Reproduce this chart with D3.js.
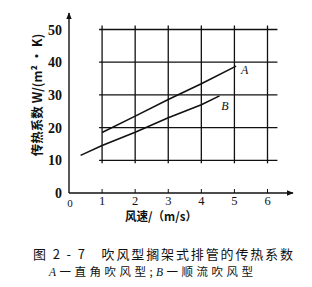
<!DOCTYPE html>
<html>
<head>
<meta charset="utf-8">
<script src="https://cdn.jsdelivr.net/npm/d3@7"></script>
<style>
  body { margin: 0; background: #fff; }
  svg { display: block; }
</style>
</head>
<body>
<div id="chart"></div>
<script>
// values
const xTicks = [1, 2, 3, 4, 5, 6]
const yTicks = [0, 10, 20, 30, 40, 50]
const gridY = [10, 20, 30, 40, 50]
const speedA = [1, 2, 3, 4, 5.05]
const coefA = [18.5, 23.5, 28.6, 33.4, 38.8]
const speedB = [0.35, 1, 2, 3, 4, 4.55]
const coefB = [11.5, 14.5, 18.6, 23, 27, 29.7]

const width = 312
const height = 287
const ink = '#111'
const serif = '"Liberation Serif", "DejaVu Serif", serif'
const cjk = '"Noto Sans CJK SC", sans-serif'

const x = d3.scaleLinear().domain([0, 6]).range([69, 267.5])
const y = d3.scaleLinear().domain([0, 50]).range([193, 29.5])

const svg = d3.select('#chart').append('svg')
  .attr('width', width)
  .attr('height', height)

// grid
const grid = svg.append('g').attr('stroke', ink).attr('stroke-width', 1.3)
grid.selectAll('line.h').data(gridY).enter().append('line')
  .attr('x1', x(1) - 3).attr('x2', x(6.3))
  .attr('y1', d => y(d)).attr('y2', d => y(d))
grid.selectAll('line.v').data(xTicks).enter().append('line')
  .attr('x1', d => x(d)).attr('x2', d => x(d))
  .attr('y1', y(50) - 4).attr('y2', y(10) + 3)

// axes with arrows
svg.append('defs').append('marker')
  .attr('id', 'arrow')
  .attr('viewBox', '0 0 10 10')
  .attr('refX', 9).attr('refY', 5)
  .attr('markerWidth', 7).attr('markerHeight', 7)
  .attr('markerUnits', 'userSpaceOnUse')
  .attr('orient', 'auto')
  .append('path').attr('d', 'M0,1 L10,5 L0,9 Z').attr('fill', ink)

svg.append('line')
  .attr('x1', x(0)).attr('y1', y(0))
  .attr('x2', 293).attr('y2', y(0))
  .attr('stroke', ink).attr('stroke-width', 1.4)
  .attr('marker-end', 'url(#arrow)')
svg.append('line')
  .attr('x1', x(0)).attr('y1', y(0))
  .attr('x2', x(0)).attr('y2', 13)
  .attr('stroke', ink).attr('stroke-width', 1.4)
  .attr('marker-end', 'url(#arrow)')

svg.append('g').selectAll('line').data(xTicks).enter().append('line')
  .attr('x1', d => x(d)).attr('x2', d => x(d))
  .attr('y1', y(0) - 4).attr('y2', y(0))
  .attr('stroke', ink).attr('stroke-width', 1)

// tick labels
svg.append('g').selectAll('text').data(xTicks).enter().append('text')
  .attr('x', d => x(d)).attr('y', 205)
  .attr('text-anchor', 'middle')
  .attr('font-family', serif).attr('font-size', 12.5).attr('fill', ink)
  .text(d => d)
svg.append('text')
  .attr('x', x(0) + 1).attr('y', 207)
  .attr('text-anchor', 'middle')
  .attr('font-family', serif).attr('font-size', 11).attr('fill', ink)
  .text('0')

svg.append('g').selectAll('text').data(yTicks).enter().append('text')
  .attr('x', 62).attr('y', d => y(d) + 5)
  .attr('text-anchor', 'end')
  .attr('font-family', serif).attr('font-size', 14).attr('font-weight', 'bold').attr('fill', ink)
  .text(d => d)

// axis titles
svg.append('text')
  .attr('transform', `translate(42, ${y(30)}) rotate(-90)`)
  .attr('text-anchor', 'middle')
  .attr('font-family', cjk).attr('font-size', 12.5).attr('font-weight', 'bold').attr('fill', ink)
  .text('传热系数 W/(m² · K)')

svg.append('text')
  .attr('x', 125).attr('y', 221)
  .attr('textLength', 72).attr('lengthAdjust', 'spacingAndGlyphs')
  .attr('font-family', cjk).attr('font-size', 12).attr('font-weight', 'bold').attr('fill', ink)
  .text('风速/（m/s）')

// curves
const line = d3.line().x(d => x(d[0])).y(d => y(d[1]))
svg.append('path')
  .attr('d', line(d3.zip(speedA, coefA)))
  .attr('fill', 'none').attr('stroke', ink).attr('stroke-width', 1.6)
svg.append('path')
  .attr('d', line(d3.zip(speedB, coefB)))
  .attr('fill', 'none').attr('stroke', ink).attr('stroke-width', 1.6)

svg.append('text')
  .attr('x', x(5.2)).attr('y', y(36.5))
  .attr('font-family', serif).attr('font-style', 'italic').attr('font-size', 12).attr('fill', ink)
  .text('A')
svg.append('text')
  .attr('x', x(4.6)).attr('y', y(25.5))
  .attr('font-family', serif).attr('font-style', 'italic').attr('font-size', 12).attr('fill', ink)
  .text('B')

// caption
svg.append('text')
  .attr('x', 33).attr('y', 259)
  .attr('textLength', 260).attr('lengthAdjust', 'spacing')
  .attr('font-family', cjk).attr('font-size', 13).attr('fill', ink)
  .text('图 2 - 7　吹风型搁架式排管的传热系数')
svg.append('text')
  .attr('x', 49).attr('y', 276)
  .attr('textLength', 204).attr('lengthAdjust', 'spacing')
  .attr('font-family', cjk).attr('font-size', 11.5).attr('fill', ink)
  .html('<tspan font-family=\'"Liberation Serif", serif\' font-style="italic">A</tspan>一直角吹风型;<tspan font-family=\'"Liberation Serif", serif\' font-style="italic">B</tspan>一顺流吹风型')
</script>
</body>
</html>
